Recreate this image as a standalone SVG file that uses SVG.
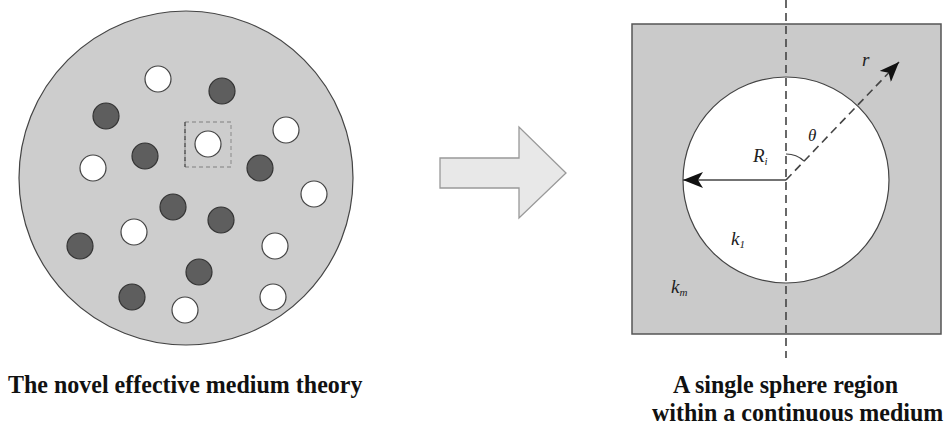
<svg xmlns="http://www.w3.org/2000/svg" width="946" height="432" viewBox="0 0 946 432">
<style>
.cap{font-family:"Liberation Serif","Times New Roman",serif;font-weight:bold;font-size:24px;fill:#111}
.sym{font-family:"Liberation Serif","Times New Roman",serif;font-style:italic;fill:#222}
.wp{fill:#fff;stroke:#444;stroke-width:1.2}
.dp{fill:#5e5e5e;stroke:#333;stroke-width:1.2}
.dash{fill:none;stroke:#444;stroke-width:1.6;stroke-dasharray:8 5}
</style>
<defs>
<marker id="ah" markerWidth="20" markerHeight="16" refX="20" refY="8" orient="auto" markerUnits="userSpaceOnUse">
<path d="M0,0 L20,8 L0,16 L5,8 Z" fill="#111"/>
</marker>
</defs>
<rect width="946" height="432" fill="#fff"/>

<g id="medium">
<circle cx="186" cy="178" r="167" fill="#cdcdcd" stroke="#444" stroke-width="1.2"/>
<circle class="wp" cx="158" cy="79" r="13"/>
<circle class="wp" cx="286" cy="130" r="13"/>
<circle class="wp" cx="93" cy="168" r="13"/>
<circle class="wp" cx="314" cy="194" r="13"/>
<circle class="wp" cx="134" cy="232" r="13"/>
<circle class="wp" cx="275" cy="246" r="13"/>
<circle class="wp" cx="273" cy="297" r="13"/>
<circle class="wp" cx="185" cy="310" r="13"/>
<circle class="dp" cx="222" cy="91" r="13"/>
<circle class="dp" cx="106" cy="116" r="13"/>
<circle class="dp" cx="145" cy="156" r="13"/>
<circle class="dp" cx="260" cy="168" r="13"/>
<circle class="dp" cx="173" cy="207" r="13"/>
<circle class="dp" cx="221" cy="220" r="13"/>
<circle class="dp" cx="80" cy="246" r="13"/>
<circle class="dp" cx="199" cy="272" r="13"/>
<circle class="dp" cx="132" cy="297" r="13"/>
</g>

<g id="selected">
<rect x="185" y="122" width="46" height="45" fill="none" stroke="#999" stroke-width="1.3" stroke-dasharray="4 3"/>
<line x1="185" y1="122" x2="185" y2="167" stroke="#444" stroke-width="1.3" stroke-dasharray="4 3"/>
<circle class="wp" cx="208" cy="144" r="13"/>
</g>

<g id="arrow">
<path d="M440,158 L519,158 L519,127 L566,173 L519,218 L519,188 L440,188 Z" fill="#e8e8e8" stroke="#999" stroke-width="1.3"/>
</g>

<g id="single-sphere">
<rect x="632" y="24" width="309" height="310" fill="#cacaca" stroke="#555" stroke-width="1.5"/>
<circle cx="786" cy="180" r="103" fill="#fff" stroke="#444" stroke-width="1.2"/>
</g>

<g id="connectors">
<line class="dash" x1="786" y1="0" x2="786" y2="358"/>
<line x1="786" y1="180" x2="683" y2="180" stroke="#444" stroke-width="1.3" marker-end="url(#ah)"/>
<line class="dash" x1="786" y1="180" x2="899" y2="62" marker-end="url(#ah)"/>
<path d="M786,154 A26,26 0 0 1 804,161" fill="none" stroke="#444" stroke-width="1.2"/>
</g>

<g id="labels">
<text class="sym" x="862" y="66" font-size="19">r</text>
<text class="sym" x="808" y="141" font-size="17">θ</text>
<text class="sym" x="753" y="162" font-size="19">R<tspan font-size="11" dy="3">i</tspan></text>
<text class="sym" x="731" y="245" font-size="19">k<tspan font-size="11" dy="3">1</tspan></text>
<text class="sym" x="671" y="293" font-size="19">k<tspan font-size="11" dy="3">m</tspan></text>
<g transform="translate(0,393) scale(1,1.08)"><text class="cap" x="8" y="0">The novel effective medium theory</text></g>
<g transform="translate(0,393) scale(1,1.08)"><text class="cap" x="673" y="0">A single sphere region</text></g>
<g transform="translate(0,421) scale(1,1.08)"><text class="cap" x="652" y="0">within a continuous medium</text></g>
</g>
</svg>
